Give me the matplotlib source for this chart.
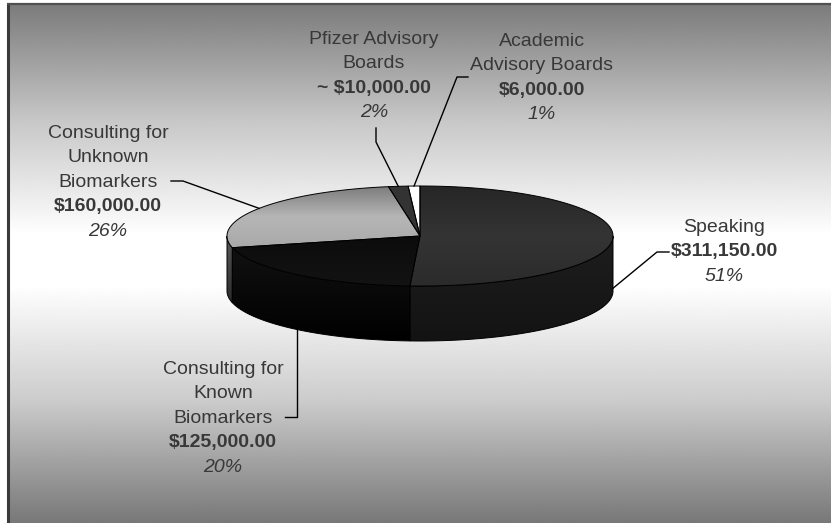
import numpy as np
import matplotlib
matplotlib.use("Agg")
import matplotlib.pyplot as plt
from matplotlib.patches import Polygon
from matplotlib.colors import LinearSegmentedColormap

# ---------------- data ----------------
categories = ["Speaking",
              "Consulting for\nKnown\nBiomarkers",
              "Consulting for\nUnknown\nBiomarkers",
              "Pfizer Advisory\nBoards",
              "Academic\nAdvisory Boards"]
values = [311150.00, 125000.00, 160000.00, 10000.00, 6000.00]
value_prefixes = ["", "", "", "~ ", ""]

# ---------------- styles ----------------
top_stops = [["#262626", "#343434", "#2b2b2b"],
             ["#0c0c0c", "#131313"],
             ["#7c7c7c", "#b6b6b6", "#a9a9a9"],
             ["#333333", "#333333"],
             ["#ffffff", "#ffffff"]]
side_stops = [["#1e1e1e", "#131313"],
              ["#111111", "#000000"],
              ["#5a5a5a", "#2a2a2a"],
              ["#333333", "#222222"],
              ["#dddddd", "#bbbbbb"]]
text_color = "#383838"
FONT = "Liberation Sans"
FS = 14

W, H = 831, 523
fig = plt.figure(figsize=(W / 100, H / 100), dpi=100)
fig.patch.set_facecolor("white")
ax = fig.add_axes([0, 0, 1, 1])
ax.axis("off")

# ---------------- background ----------------
yy = np.arange(3, H + 1)
gy = np.interp(yy, [3, 120, 235, 285, 400, 523], [0.48, 0.78, 1.0, 1.0, 0.80, 0.47])
bg = np.repeat(gy[:, None], 2, axis=1)
ax.imshow(bg, cmap="gray", vmin=0, vmax=1, extent=(7, W, H, 3), origin="upper",
          aspect="auto", zorder=0, interpolation="bilinear")
ax.plot([7.5, 7.5], [3, H], color="#3a3a3a", lw=2.2, zorder=1, solid_capstyle="butt")
ax.plot([7, W], [3.6, 3.6], color="#505050", lw=1.6, zorder=1, solid_capstyle="butt")

# ---------------- pie geometry ----------------
cx, cy, ra, rb, depth = 420.0, 236.0, 193.0, 50.0, 55.0


def pt(theta_deg, dz=0.0):
    t = np.radians(theta_deg)
    return cx + ra * np.cos(t), cy - rb * np.sin(t) + dz


def arc(t0, t1, dz=0.0, n=120):
    ts = np.linspace(t0, t1, n)
    return [pt(t, dz) for t in ts]


def grad_fill(verts, stops, z):
    verts = np.asarray(verts)
    poly = Polygon(verts, closed=True, fc="none", ec="none", zorder=z)
    ax.add_patch(poly)
    cmap = LinearSegmentedColormap.from_list("g", stops)
    x0, x1 = verts[:, 0].min(), verts[:, 0].max()
    y0, y1 = verts[:, 1].min(), verts[:, 1].max()
    im = ax.imshow(np.linspace(0, 1, 256)[:, None], cmap=cmap, vmin=0, vmax=1,
                   extent=(x0, x1, y1, y0), origin="upper", aspect="auto",
                   zorder=z, interpolation="bilinear")
    im.set_clip_path(poly)
    ax.add_patch(Polygon(verts, closed=True, fc="none", ec="black", lw=0.7, zorder=z + 0.1))


total = float(sum(values))
fracs = [v / total for v in values]
cum = np.concatenate([[0.0], np.cumsum(fracs)])
starts = [90 - 360 * cum[i] for i in range(len(values))]
ends = [90 - 360 * cum[i + 1] for i in range(len(values))]
mids = [(s + e) / 2 for s, e in zip(starts, ends)]

# side faces (front half only)
for i in range(len(values)):
    s, e = starts[i], ends[i]
    for lo_r, hi_r in [(-180, 0), (180, 360), (-540, -360)]:
        lo, hi = max(e, lo_r), min(s, hi_r)
        if hi > lo:
            top = arc(hi, lo)
            bot = arc(lo, hi, depth)
            grad_fill(top + bot, side_stops[i], 2)

# top faces
for i in range(len(values)):
    verts = [(cx, cy)] + arc(starts[i], ends[i])
    grad_fill(verts, top_stops[i], 3)

# ---------------- labels ----------------
label_first_line = [(724, 227), (223, 369), (108, 133), (374, 39), (542, 41)]
line_step = 24.6
anchor_dz = [51, 55, 0, 0, 0]
leader_mid = [[(657, 252), (669, 252)],
              [(None, 417), (285, 417)],
              [(183, 181), (171, 181)],
              [(376, 142), (376, 128)],
              [(457, 77), (468, 77)]]

for i, cat in enumerate(categories):
    x, y = label_first_line[i]
    lines = [(l, "normal", "normal") for l in cat.split("\n")]
    lines.append((f"{value_prefixes[i]}${values[i]:,.2f}", "bold", "normal"))
    lines.append((f"{round(fracs[i] * 100):.0f}%", "normal", "italic"))
    for k, (txt, wt, st) in enumerate(lines):
        ax.text(x, y + k * line_step, txt, ha="center", va="center", fontsize=FS,
                fontfamily=FONT, fontweight=wt, fontstyle=st, color=text_color, zorder=6)
    ax0, ay0 = pt(mids[i], anchor_dz[i])
    pts = [(ax0, ay0)]
    for (px, py) in leader_mid[i]:
        pts.append((ax0 if px is None else px, py))
    xs, ys = zip(*pts)
    ax.plot(xs, ys, color="black", lw=1.0, zorder=5)

ax.set_xlim(0, W)
ax.set_ylim(H, 0)
fig.savefig("out.png", dpi=100, facecolor="white")
